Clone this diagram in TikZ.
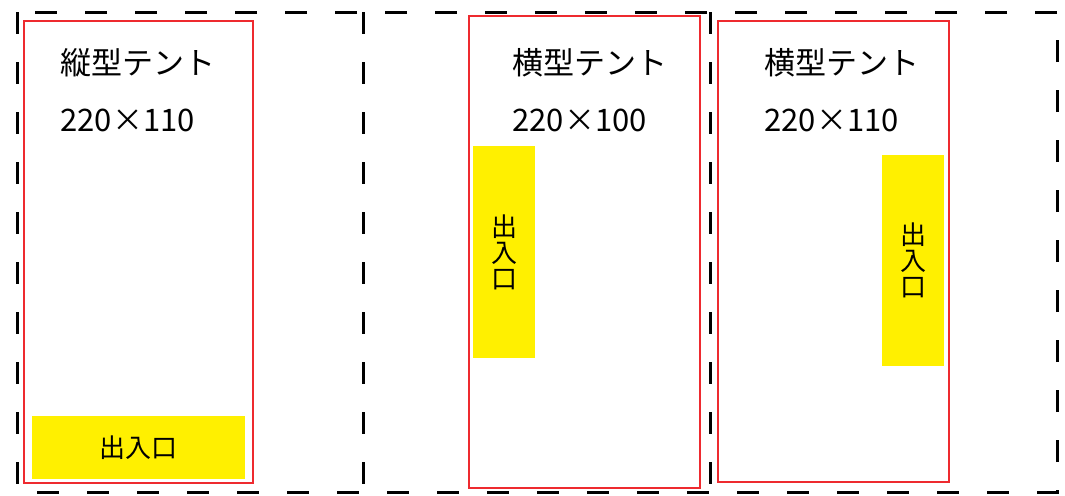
\documentclass[tikz,border=0pt]{standalone}
\usepackage{fontspec}
\setmainfont{Noto Sans CJK JP}
\definecolor{tentred}{HTML}{EE2A2F}
\definecolor{dooryellow}{HTML}{FFF000}
\begin{document}
\begin{tikzpicture}[x=0.5pt, y=-0.5pt,
    lot/.style = {draw, line width=1.5pt, dash pattern=on 11pt off 14pt},
    tent/.style = {draw=tentred, line width=1.2pt},
    door/.style = {fill=dooryellow, inner sep=0pt, font=\fontsize{13pt}{13pt}\selectfont, align=center},
    label/.style = {anchor=west, inner sep=0pt, font=\fontsize{15.5pt}{16pt}\selectfont}]
        \useasboundingbox (0,0) rectangle (1065,495);
        % lot outline
        \draw[lot] (17,12) rectangle (1057,492);
        \draw[lot] (363,12) -- (363,492);
        \draw[lot] (710,12) -- (710,492);
        % tents
        \draw[tent] (24,21) rectangle (253,483);
        \draw[tent] (469,16) rectangle (700,488);
        \draw[tent] (718,21) rectangle (949,482);
        %
        \node[label] (t1) at (60,63) {縦型テント};
        \node[label] (s1) at (60,120) {220×110};
        \node[label] (t2) at (512,63) {横型テント};
        \node[label] (s2) at (512,120) {220×100};
        \node[label] (t3) at (764,63) {横型テント};
        \node[label] (s3) at (764,120) {220×110};
        %
        \node[door, minimum width=106.5pt, minimum height=31.5pt] (d1) at (138.5,447.5) {出入口};
        \node[door, minimum width=31pt, minimum height=106pt] (d2) at (504,252) {出\\入\\口};
        \node[door, minimum width=31pt, minimum height=105.5pt] (d3) at (913,260.5) {出\\入\\口};
      \end{tikzpicture}
\end{document}
